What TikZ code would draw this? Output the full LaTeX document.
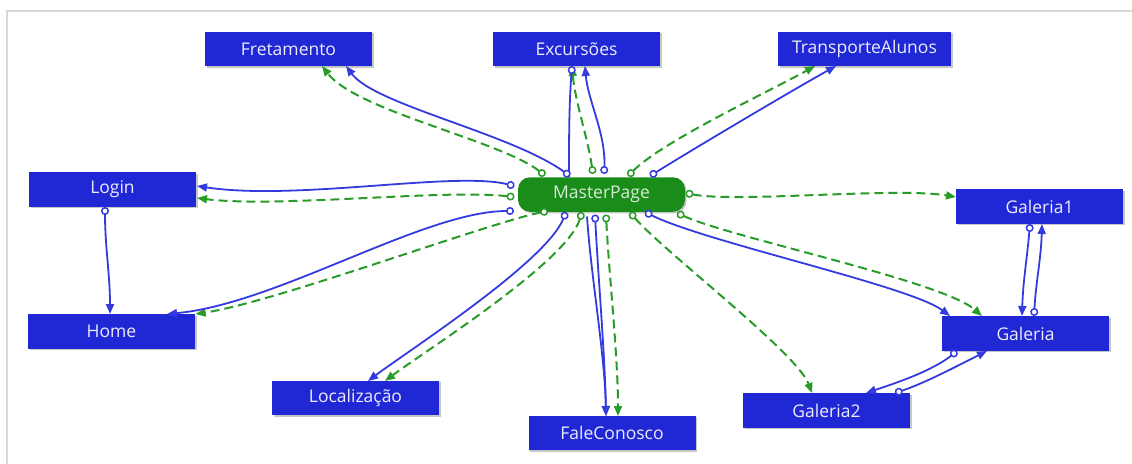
\documentclass[tikz,border=0pt]{standalone}
\usepackage{fontspec}
\setmainfont{Open Sans}
\usetikzlibrary{arrows.meta,calc,shadows}

\definecolor{boxblue}{RGB}{32,40,214}
\definecolor{boxtext}{RGB}{236,236,250}
\definecolor{mpgreen}{RGB}{26,140,26}
\definecolor{mptext}{RGB}{214,236,214}
\definecolor{lineblue}{RGB}{52,58,222}
\definecolor{linegreen}{RGB}{40,155,40}
\definecolor{framecol}{RGB}{217,217,217}

\tikzset{
  page/.style={fill=boxblue, text=boxtext, minimum width=167pt, minimum height=34.5pt,
    inner sep=0pt, font=\fontsize{17.5}{20}\selectfont,
    drop shadow={shadow xshift=1.5pt, shadow yshift=-1.5pt, fill=black, opacity=0.22}},
  master/.style={page, fill=mpgreen, text=mptext, rounded corners=12pt},
  porttip/.tip={Circle[length=8pt, fill=white, line width=1.5pt]},
  headtip/.tip={Triangle[length=10pt, width=8pt]},
  nav/.style={draw=lineblue, line width=1.8pt, porttip-headtip},
  inh/.style={draw=linegreen, line width=2pt, dash pattern=on 9pt off 5pt, porttip-headtip},
  navin/.style={draw=lineblue, line width=1.8pt, porttip-},
  navout/.style={draw=lineblue, line width=1.8pt, -headtip},
}

\begin{document}
\begin{tikzpicture}[x=1pt, y=-1pt]
\useasboundingbox (0,0) rectangle (1132,463);
\draw[framecol, line width=2pt] (7,11) rectangle (1160,490);

% pages
\node[page] (fre) at (288.5,49) {Fretamento};
\node[page] (exc) at (576.5,49) {Excursões};
\node[page, minimum width=173pt] (tra) at (864.5,49) {TransporteAlunos};
\node[page] (login) at (112.5,189.5) {Login};
\node[master] (mp) at (601.5,194.5) {MasterPage};
\node[page] (gal1) at (1039.5,206.5) {Galeria1};
\node[page] (home) at (111.5,331.5) {Home};
\node[page] (gal) at (1025.5,333.5) {Galeria};
\node[page] (loc) at (355.5,398) {Localização};
\node[page] (gal2) at (826.5,410.5) {Galeria2};
\node[page] (fale) at (612,433) {FaleConosco};

% master page inheritance (dashed)
\draw[inh] ($(mp)+(-56.5,-19)$) .. controls +(-45,-35) and +(35,45) .. ($(fre)+(33.5,17)$);
\draw[inh] ($(mp)+(-8.5,-20.5)$) .. controls +(-5,-35) and +(3,35) .. ($(exc)+(-4.5,17)$);
\draw[inh] ($(mp)+(26.5,-18.5)$) .. controls +(35,-35) and +(-45,25) .. ($(tra)+(-49.5,17)$);
\draw[inh] ($(mp)+(-87,2.5)$) .. controls +(-70,-8) and +(80,10) .. ($(login)+(84.5,8.5)$);
\draw[inh] ($(mp)+(-53.5,16.5)$) .. controls +(-60,12) and +(80,-12) .. ($(home)+(84,-17.5)$);
\draw[inh] ($(mp)+(-19.5,17.5)$) .. controls +(-15,50) and +(40,-30) .. ($(loc)+(29.5,-17)$);
\draw[inh] ($(mp)+(4.5,20)$) .. controls +(3,60) and +(0,-60) .. ($(fale)+(6,-17)$);
\draw[inh] ($(mp)+(28.5,18)$) .. controls +(35,40) and +(-15,-40) .. ($(gal2)+(-14.5,-17.5)$);
\draw[inh] ($(mp)+(75.5,18.5)$) .. controls +(55,25) and +(-40,-35) .. ($(gal)+(-43.5,-17.5)$);
\draw[inh] ($(mp)+(84,-1.5)$) .. controls +(50,10) and +(-60,-10) .. ($(gal1)+(-83.5,-9.5)$);

% navigation links
\draw[navin] ($(exc)+(-4.5,17)$) .. controls +(-3,40) and +(0,-40) .. ($(mp)+(-32.5,-17.5)$);
\draw[navout] ($(mp)+(-14.5,22)$) .. controls +(4,60) and +(-1,-60) .. ($(fale)+(-6,-17)$);
\draw[nav] ($(mp)+(-31.5,-18.5)$) .. controls +(-60,-43) and +(29,39) .. ($(fre)+(57.5,17)$);
\draw[nav] ($(mp)+(2.5,-20.5)$) .. controls +(2,-40) and +(3,35) .. ($(exc)+(8.5,17)$);
\draw[nav] ($(mp)+(48.5,-18.5)$) .. controls +(40,-25) and +(-45,25) .. ($(tra)+(-28.5,17)$);
\draw[nav] ($(mp)+(-87,-8.5)$) .. controls +(-60,-15) and +(100,15) .. ($(login)+(84.5,-3.5)$);
\draw[nav] ($(mp)+(-87.5,16.5)$) .. controls +(-90,0) and +(110,-10) .. ($(home)+(55.5,-17.5)$);
\draw[nav] ($(mp)+(-35.5,17.5)$) .. controls +(-20,50) and +(40,-30) .. ($(loc)+(12.5,-17)$);
\draw[nav] ($(mp)+(-6.5,20)$) .. controls +(3,60) and +(-1,-60) .. ($(fale)+(-6,-17)$);
\draw[nav] ($(mp)+(43.5,17.5)$) .. controls +(60,30) and +(-40,-30) .. ($(gal)+(-75.5,-17.5)$);
\draw[nav] ($(login)+(-7.5,17.5)$) .. controls +(0,40) and +(0,-40) .. ($(home)+(-1.5,-17.5)$);
\draw[nav] ($(gal1)+(-9.5,17.5)$) .. controls +(-3,35) and +(1,-35) .. ($(gal)+(-3.5,-17.5)$);
\draw[nav] ($(gal)+(8.5,-17.5)$) .. controls +(2,-35) and +(-1,35) .. ($(gal1)+(2.5,17.5)$);
\draw[nav] ($(gal)+(-68.5,17.5)$) .. controls +(-25,20) and +(30,-10) .. ($(gal2)+(39.5,-17.5)$);
\draw[nav] ($(gal2)+(68.5,-17.5)$) .. controls +(30,-10) and +(-30,15) .. ($(gal)+(-38.5,17.5)$);
\end{tikzpicture}
\end{document}
